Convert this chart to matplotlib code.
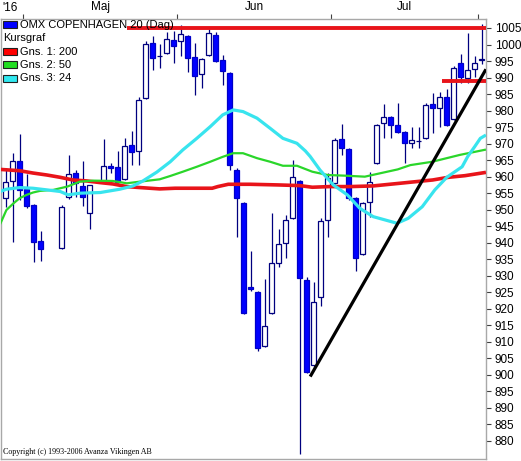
import numpy as np
import matplotlib
matplotlib.use("Agg")
import matplotlib.pyplot as plt
from matplotlib.patches import Rectangle

nan = np.nan

# ---- data: one slot per weekday, index 0 = 27 Apr 2016 (holidays = nan) ----
opens = [953.5, 958.7, 964.7, 956.3, 951.4, 940.5, nan, nan, 938.4, 953.8, 961.1, 957.2, 949.0, nan,
         958.4, 963.2, 962.9, 959.3, 969.6, 967.8, 983.8, 1000.5, 996.5, 997.4, 1001.4, 1001.1, 1002.6,
         996.2, 991.1, 996.8, 1002.9, 995.3, 991.4, 962.0, 952.0, 926.7, 925.1, 908.8, 918.7, 933.9,
         939.9, 947.5, 958.7, 928.7, 903.0, 923.6, 946.9, 958.1, 971.4, 968.4, 953.5, 936.6, 952.3,
         964.1, 976.2, 978.1, 975.6, 973.5, 970.2, 970.8, 971.7, 982.0, 980.8, 984.1, 977.5, 994.4,
         989.9, 992.6, 995.3]
highs = [962.5, 967.2, 972.9, 960.8, 951.8, 943.6, nan, nan, 951.3, 966.6, 962.0, 964.7, 957.5, nan,
         971.4, 964.0, 967.8, 971.7, 973.8, 984.1, 1001.1, 1002.6, 1000.2, 1003.8, 1004.1, 1005.9, 1003.0,
         1000.5, 995.8, 1004.7, 1003.8, 996.8, 991.6, 962.5, 952.3, 937.5, 925.3, 929.0, 949.0, 944.2,
         948.4, 965.0, 959.0, 929.6, 928.1, 947.5, 961.0, 971.7, 976.0, 968.6, 953.7, 952.3, 961.4,
         975.8, 982.0, 978.3, 982.3, 973.7, 975.0, 975.0, 982.3, 985.3, 985.6, 986.5, 993.5, 997.1,
         1003.5, 996.5, 1006.2]
lows = [950.8, 940.2, 953.0, 950.5, 934.2, 934.5, nan, nan, 938.0, 953.3, 953.9, 951.1, 944.2, nan,
        958.0, 961.0, 958.2, 959.0, 963.5, 963.5, 983.5, 992.3, 992.9, 997.0, 994.4, 996.5, 991.7,
        984.7, 986.8, 996.5, 994.8, 987.7, 962.0, 941.7, 918.5, 925.5, 907.3, 908.5, 918.5, 932.7,
        935.4, 947.3, 876.1, 900.6, 902.5, 920.9, 941.7, 957.8, 966.6, 953.0, 931.5, 936.2, 947.8,
        963.8, 971.7, 971.7, 973.3, 964.1, 968.7, 968.7, 971.5, 973.2, 975.0, 975.3, 977.3, 988.4,
        988.4, 990.2, 994.0]
closes = [958.4, 964.7, 956.0, 951.1, 940.2, 938.1, nan, nan, 950.8, 960.8, 958.1, 953.8, 957.5, nan,
          963.2, 962.5, 958.4, 969.3, 967.5, 983.2, 1000.2, 995.9, 996.5, 1001.7, 999.6, 1003.2, 995.9,
          990.5, 995.6, 1003.5, 995.0, 992.0, 963.5, 953.5, 918.7, 925.9, 908.1, 914.8, 933.9, 939.6,
          946.9, 959.9, 929.3, 900.9, 922.1, 946.6, 959.5, 971.1, 968.7, 953.5, 935.4, 952.0, 958.4,
          975.6, 978.1, 975.6, 973.5, 970.2, 971.1, 970.8, 981.7, 980.8, 984.1, 975.6, 993.0, 990.2,
          992.3, 994.4, 995.6]

# moving averages (read at sampled day positions)
ma200_x = [-0.8, 2.0, 3.9, 5.9, 7.8, 9.6, 11.6, 13.5, 15.3, 17.3, 19.2, 22.0, 24.2, 29.5, 30.3, 31.8,
           34.9, 38.9, 42.0, 43.8, 46.3, 49.2, 52.5, 56.3, 61.0, 63.2, 65.6, 68.6]
ma200_v = [962.2, 961.8, 961.1, 960.5, 959.8, 959.0, 958.7, 958.2, 957.8, 957.0, 956.7, 956.3, 956.5,
           956.5, 957.0, 957.7, 957.7, 957.5, 957.3, 956.8, 957.0, 957.0, 957.2, 958.0, 959.0, 959.8,
           960.3, 961.3]
ma50_x = [-0.8, 0.1, 1.1, 2.0, 3.0, 3.9, 4.9, 6.8, 8.8, 10.6, 12.5, 15.3, 17.3, 19.2, 22.0, 23.5, 25.3,
          27.3, 29.2, 31.0, 32.5, 33.9, 35.9, 37.8, 39.6, 41.6, 43.8, 46.0, 48.5, 51.3, 54.5, 56.0, 57.8,
          60.9, 64.9, 68.6]
ma50_v = [945.6, 949.9, 951.9, 953.5, 954.5, 955.2, 955.7, 956.0, 957.0, 958.5, 958.8, 958.7, 958.0,
          958.5, 959.2, 960.2, 961.5, 963.0, 964.5, 966.0, 967.1, 967.1, 965.6, 964.5, 963.3, 963.3,
          961.5, 960.5, 960.3, 960.0, 961.5, 962.2, 963.5, 964.5, 966.6, 968.2]
ma24_x = [-0.8, 0.1, 2.0, 3.9, 5.9, 7.8, 8.9, 10.6, 13.5, 16.3, 18.2, 19.6, 21.6, 23.5, 25.3, 27.3, 29.2,
          31.0, 32.5, 33.9, 35.9, 37.8, 39.6, 41.6, 42.8, 43.5, 44.9, 46.8, 48.8, 50.6, 52.5, 54.2, 55.9,
          57.5, 59.5, 61.3, 63.0, 65.2, 66.0, 67.0, 67.8, 68.6]
ma24_v = [955.5, 956.2, 956.7, 956.5, 956.0, 955.5, 954.5, 955.0, 955.2, 956.2, 957.2, 958.7, 961.4,
          964.5, 968.1, 971.6, 975.1, 978.7, 980.2, 979.7, 977.7, 974.6, 971.6, 970.1, 967.8, 966.1,
          962.0, 957.5, 954.5, 950.4, 947.9, 946.9, 945.9, 947.4, 950.9, 956.0, 959.8, 963.0, 966.1,
          969.1, 971.6, 972.6]

# drawn analysis lines
resist_x = [17.3, 68.6]
resist_v = [1005.0, 1005.0]
support_x = [62.3, 68.6]
support_v = [989.0, 989.0]
trend_x = [43.5, 68.6]
trend_v = [899.5, 992.5]

yticks = list(range(880, 1006, 5))
month_bounds = [2.5, 24.5, 46.5, 67.5]
month_centers = [13.5, 35.5, 57.0]
month_labels = ["Maj", "Jun", "Jul"]
year_label = "'16"
legend_labels = ["OMX COPENHAGEN 20 (Dag)", "Kursgraf", "Gns. 1: 200", "Gns. 2: 50", "Gns. 3: 24"]
copyright_text = "Copyright (c) 1993-2006 Avanza Vikingen AB"

# ---- drawing ----
W, H = 521, 461
fig = plt.figure(figsize=(W / 100, H / 100), dpi=100)
fig.patch.set_facecolor("white")
ax = fig.add_axes([1 / W, 2 / H, 485 / W, 440 / H])
ax.set_facecolor("white")

o = np.array(opens); h = np.array(highs); l = np.array(lows); c = np.array(closes)
x = np.arange(len(o))
ok = ~np.isnan(o)
wick_col = "#00007f"
ax.vlines(x[ok], l[ok], h[ok], color=wick_col, lw=0.9, zorder=2)
up = ok & (c >= o)
dn = ok & (c < o)
bw = 0.72
ax.bar(x[up], (c - o)[up], bottom=o[up], width=bw, facecolor="white", edgecolor=wick_col,
       linewidth=0.9, zorder=2.5)
ax.bar(x[dn], (o - c)[dn], bottom=c[dn], width=bw, facecolor="#0000ff", edgecolor="#0000c8",
       linewidth=0.9, zorder=2.5)

ax.plot(ma200_x, ma200_v, color="#e8141a", lw=2.6, zorder=3, solid_capstyle="butt")
ax.plot(ma50_x, ma50_v, color="#2ad62a", lw=1.6, zorder=3.1, solid_capstyle="butt")
ax.plot(ma24_x, ma24_v, color="#38e4ee", lw=2.3, zorder=3.2, solid_capstyle="butt")
ax.plot(resist_x, resist_v, color="#e8141a", lw=2.8, zorder=4, solid_capstyle="butt")
ax.plot(support_x, support_v, color="#e8141a", lw=2.8, zorder=4, solid_capstyle="butt")
ax.plot(trend_x, trend_v, color="black", lw=2.3, zorder=4, solid_capstyle="butt")

ax.set_xlim(-0.67, 68.61)
ax.set_ylim(874.55, 1007.72)

for s in ax.spines.values():
    s.set_color("#a8a8a8")
    s.set_linewidth(1.0)

font = "Liberation Sans"
ax.yaxis.tick_right()
ax.set_yticks(yticks)
ax.set_yticklabels([str(v) for v in yticks], fontsize=8.5, family=font)
ax.tick_params(axis="y", which="major", length=3.8, width=0.8, color="#404040", pad=2.5,
               right=True, left=False)

ax.xaxis.tick_top()
ax.set_xticks(month_bounds)
ax.set_xticklabels([""] * len(month_bounds))
ax.set_xticks(month_centers, minor=True)
ax.set_xticklabels(month_labels, minor=True, fontsize=8.5, family=font)
ax.tick_params(axis="x", which="major", length=3.8, width=0.8, color="#404040", top=True, bottom=False)
ax.tick_params(axis="x", which="minor", length=0, pad=4.3, top=True, bottom=False)

fig.text(2 / W, 1 - 8 / H, year_label, fontsize=8.5, family=font, ha="left", va="center")

# legend (text + colored squares)
leg_colors = ["#0000ff", None, "#ff0000", "#22dd22", "#30e8f0"]
row_y = [25, 38.3, 51.6, 64.9, 78.2]
for lab, col, yy in zip(legend_labels, leg_colors, row_y):
    if col is None:
        fig.text(3 / W, 1 - yy / H, lab, fontsize=8, family=font, ha="left", va="center", zorder=5)
    else:
        fig.patches.append(Rectangle((3 / W, 1 - (yy + 3.5) / H), 14 / W, 7 / H,
                                     transform=fig.transFigure, facecolor=col,
                                     edgecolor="#202020", linewidth=0.8, zorder=5))
        fig.text(20 / W, 1 - yy / H, lab, fontsize=8, family=font, ha="left", va="center", zorder=5)

fig.text(3 / W, 1 - 452 / H, copyright_text, fontsize=5.8, family="Liberation Serif",
         ha="left", va="center")

fig.savefig("out.png", dpi=100, facecolor="white")
